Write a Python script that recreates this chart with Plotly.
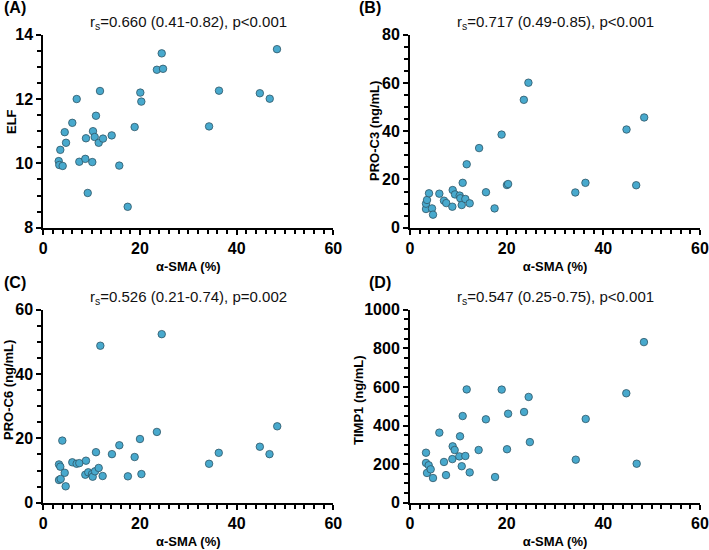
import plotly.graph_objects as go

# ---------------- data ----------------
sma_A = [3.19, 3.31, 3.52, 4.01, 4.43, 4.7, 6.0, 6.91, 7.45, 8.69, 8.83, 9.19, 10.14, 10.28,
         10.63, 10.9, 11.46, 11.73, 12.35, 14.15, 15.72, 17.46, 18.9, 20.07, 20.28, 23.5,
         24.5, 24.77, 34.3, 36.35, 44.8, 46.85, 48.35]
elf = [10.07, 9.95, 10.42, 9.92, 10.97, 10.64, 11.26, 12.0, 10.05, 10.14, 10.78, 9.08, 10.04, 11.0,
       10.82, 11.48, 10.64, 12.25, 10.77, 10.87, 9.93, 8.65, 11.13, 12.2, 11.92, 12.91,
       13.42, 12.94, 11.15, 12.26, 12.18, 12.01, 13.55]

sma_B = [3.31, 3.31, 3.52, 3.93, 4.55, 4.76, 6.07, 7.03, 7.5, 8.76, 8.83, 9.31, 10.28, 10.41,
         10.7, 10.9, 11.45, 11.73, 12.35, 14.3, 15.72, 17.5, 18.95, 20.05, 20.3, 23.55,
         24.5, 34.2, 36.3, 44.8, 46.8, 48.45]
pro_c3 = [7.75, 9.95, 11.5, 14.26, 8.0, 5.4, 14.1, 11.2, 10.2, 8.7, 15.6, 13.8, 13.3, 12.2,
          9.4, 18.6, 11.9, 26.3, 10.1, 33.0, 14.7, 8.0, 38.6, 17.7, 18.1, 53.0,
          60.1, 14.6, 18.6, 40.7, 17.6, 45.7]

sma_C = [3.25, 3.52, 3.25, 3.6, 3.93, 4.43, 4.63, 6.0, 6.9, 7.45, 8.69, 8.83, 9.3, 10.07,
         10.22, 10.7, 10.9, 11.46, 11.8, 12.28, 14.2, 15.73, 17.5, 18.9, 20.0, 20.3,
         23.5, 24.5, 34.3, 36.3, 44.8, 46.8, 48.4]
pro_c6 = [11.9, 11.2, 7.06, 7.4, 19.3, 9.3, 5.1, 12.56, 12.1, 12.3, 8.7, 13.06, 9.45, 8.9,
          8.08, 9.76, 15.7, 10.8, 48.8, 8.3, 15.1, 17.85, 8.2, 14.2, 19.8, 8.9,
          22.0, 52.4, 12.1, 15.5, 17.4, 15.1, 23.75]

sma_D = [3.31, 3.31, 3.52, 3.87, 4.28, 4.76, 6.07, 7.03, 7.45, 8.76, 8.83, 9.24, 10.2, 10.35,
         10.7, 10.9, 11.45, 11.73, 12.35, 14.2, 15.7, 17.6, 18.97, 20.07, 20.3, 23.6,
         24.55, 24.8, 34.3, 36.35, 44.75, 46.9, 48.4]
timp1 = [259, 206, 154, 194, 173, 128, 363, 211, 143, 226, 292, 273, 240, 344,
         189, 449, 242, 587, 157, 273, 432, 133, 586, 277, 461, 470,
         548, 314, 223, 434, 567, 202, 832]

panel_letters = ["(A)", "(B)", "(C)", "(D)"]
stats_text = ["r<sub>s</sub>=0.660 (0.41-0.82), p<0.001",
              "r<sub>s</sub>=0.717 (0.49-0.85), p<0.001",
              "r<sub>s</sub>=0.526 (0.21-0.74), p=0.002",
              "r<sub>s</sub>=0.547 (0.25-0.75), p<0.001"]
y_titles = ["ELF", "PRO-C3 (ng/mL)", "PRO-C6 (ng/mL)", "TIMP1 (ng/mL)"]
x_title = "α-SMA (%)"
y_ranges = [[8, 14], [0, 80], [0, 60], [0, 1000]]
y_dticks = [2, 20, 20, 200]
y_minor = [0.5, 5, 5, 50]

# ---------------- figure ----------------
W, H = 709, 550
FONT = "Arial, Liberation Sans, Helvetica, sans-serif"
MARK = "#48A9CD"

# pixel boxes of plot areas: (left, right, top, bottom)
boxes = [(43.3, 333.3, 34.7, 227.7), (410, 700, 34.7, 227.7),
         (43.3, 333.3, 309.7, 502.7), (410, 700, 309.7, 502.7)]
letter_x = [2, 357, 2, 367]
ytitle_pos = [(12, 122), (374, 131), (8, 390), (358, 400)]   # pixel centres

xs = [sma_A, sma_B, sma_C, sma_D]
ys = [elf, pro_c3, pro_c6, timp1]

fig = go.Figure()
annotations = []
for i in range(4):
    ax = "" if i == 0 else str(i + 1)
    fig.add_trace(go.Scatter(
        x=xs[i], y=ys[i], mode="markers",
        xaxis="x" + ax, yaxis="y" + ax,
        marker=dict(size=7.5, color=MARK, line=dict(color="#2f5566", width=0.8)),
        showlegend=False, cliponaxis=False, hoverinfo="skip",
    ))
    l, r, t, b = boxes[i]
    axis_common = dict(
        showline=True, linewidth=2, linecolor="black", mirror=False,
        ticks="outside", ticklen=5, tickwidth=2, tickcolor="black",
        showgrid=False, zeroline=False, automargin=False, fixedrange=True,
        tickfont=dict(family=FONT, size=16, color="black", weight="bold"),
    )
    fig.layout["xaxis" + ax] = dict(
        axis_common, domain=[l / W, r / W], range=[0, 60], dtick=20, tick0=0,
        anchor="y" + ax,
        minor=dict(dtick=2, tick0=0, ticks="outside", ticklen=4, tickwidth=1.5,
                   tickcolor="black", showgrid=False),
        title=dict(text="<b>" + x_title + "</b>", standoff=6,
                   font=dict(family=FONT, size=13, color="black")),
    )
    fig.layout["yaxis" + ax] = dict(
        axis_common, domain=[1 - b / H, 1 - t / H], range=y_ranges[i],
        dtick=y_dticks[i], tick0=y_ranges[i][0], anchor="x" + ax,
        minor=dict(dtick=y_minor[i], tick0=y_ranges[i][0], ticks="outside", ticklen=4,
                   tickwidth=1.5, tickcolor="black", showgrid=False),
    )
    tx, ty = ytitle_pos[i]
    annotations.append(dict(
        text="<b>" + y_titles[i] + "</b>", x=tx / W, y=1 - ty / H,
        xref="paper", yref="paper", xanchor="center", yanchor="middle",
        textangle=-90, showarrow=False,
        font=dict(family=FONT, size=13, color="black"),
    ))
    annotations.append(dict(
        text=stats_text[i], x=(l + r) / 2 / W, y=1 - (t - 12) / H,
        xref="paper", yref="paper", xanchor="center", yanchor="middle",
        showarrow=False, font=dict(family=FONT, size=15, color="#111111"),
    ))
    annotations.append(dict(
        text="<b>" + panel_letters[i] + "</b>", x=letter_x[i] / W,
        y=1 - (t - 27) / H, xref="paper", yref="paper",
        xanchor="left", yanchor="middle", showarrow=False,
        font=dict(family=FONT, size=16, color="black"),
    ))

fig.update_layout(
    width=W, height=H, margin=dict(l=0, r=0, t=0, b=0, autoexpand=False),
    paper_bgcolor="white", plot_bgcolor="white",
    annotations=annotations, showlegend=False, hovermode=False,
)
fig.write_html("out.html", config={"displayModeBar": False},
               post_script="document.body.style.margin='0px';document.body.style.overflow='hidden';")
